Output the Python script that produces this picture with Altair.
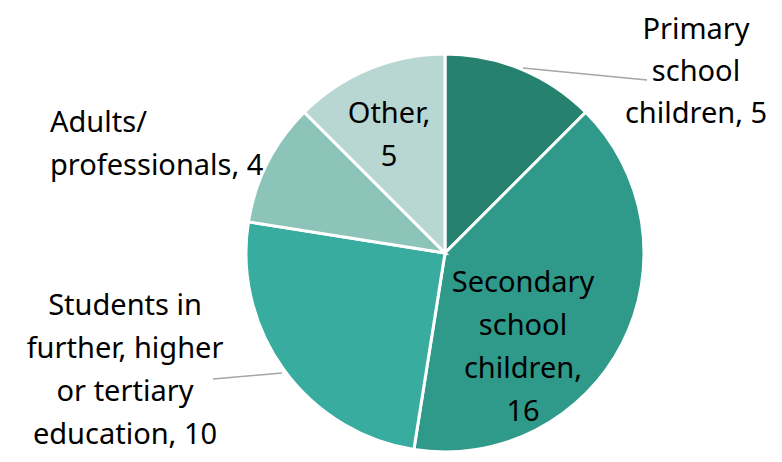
import altair as alt
import pandas as pd

# ---- data ----
categories = [
    "Primary school children",
    "Secondary school children",
    "Students in further, higher or tertiary education",
    "Adults/professionals",
    "Other",
]
values = [5, 16, 10, 4, 5]
colors = ["#26826F", "#2F998A", "#37AC9F", "#8CC4BA", "#B8D7D2"]

label_lines = [
    ["Primary", "school", "children, 5"],
    ["Secondary", "school", "children,", "16"],
    ["Students in", "further, higher", "or tertiary", "education, 10"],
    ["Adults/", "professionals, 4"],
    ["Other,", "5"],
]

# ---- layout (chart-pixel coordinates, annotation only) ----
W, H = 766, 446
CX, CY, R = 437, 245, 199
label_x = [688, 515, 117, 42, 381]
label_y = [31, 284, 307, 124, 115]
label_align = ["center", "center", "center", "left", "center"]
label_lh = [42, 43, 43, 43, 43]

leader_x = [515, 205]
leader_y = [60, 371]
leader_x2 = [639, 274]
leader_y2 = [72, 365]

df = pd.DataFrame({"category": categories, "value": values, "order": range(len(values))})
lab = pd.DataFrame({
    "text": label_lines, "x": label_x, "y": label_y, "align": label_align, "lh": label_lh,
})
lead = pd.DataFrame({"x": leader_x, "y": leader_y, "x2": leader_x2, "y2": leader_y2})

pie = alt.Chart(df).mark_arc(outerRadius=R, stroke="white", strokeWidth=3).encode(
    theta=alt.Theta("value:Q", stack=True),
    color=alt.Color("category:N", scale=alt.Scale(domain=categories, range=colors), legend=None),
    order=alt.Order("order:Q"),
    x=alt.value(CX),
    y=alt.value(CY),
)

leaders = alt.Chart(lead).mark_rule(color="#A6A6A6", strokeWidth=1.5).encode(
    x=alt.X("x:Q", scale=None),
    y=alt.Y("y:Q", scale=None),
    x2="x2:Q",
    y2="y2:Q",
)

def text_layer(align, lh):
    sub = lab[(lab["align"] == align) & (lab["lh"] == lh)]
    return alt.Chart(sub).mark_text(
        font="Noto Sans", fontSize=29, lineHeight=lh, color="black",
        align=align, baseline="alphabetic",
    ).encode(
        x=alt.X("x:Q", scale=None),
        y=alt.Y("y:Q", scale=None),
        text="text",
    )

chart = alt.layer(
    pie, leaders, text_layer("center", 43), text_layer("center", 42), text_layer("left", 43)
).properties(
    width=W, height=H, padding=0,
).configure_view(stroke=None)

chart.save("out.html", embed_options={"renderer": "svg", "actions": False})
